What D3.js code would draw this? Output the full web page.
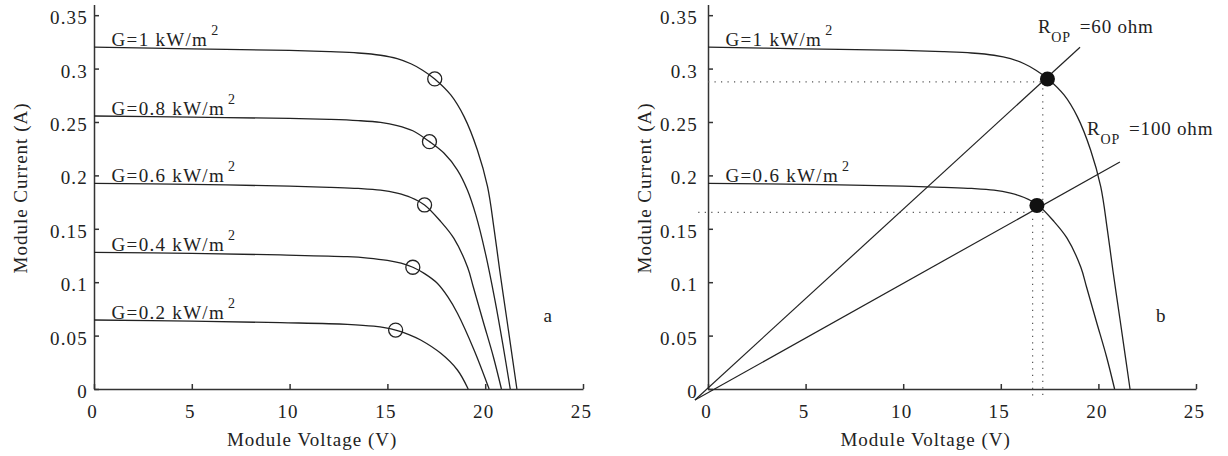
<!DOCTYPE html>
<html><head><meta charset="utf-8">
<script src="https://cdn.jsdelivr.net/npm/d3@7"></script>
<style>
body{margin:0;background:#fff}
text{font-family:"Liberation Serif","Times New Roman",serif;fill:#222}
</style>
</head><body>
<svg id="c" width="1228" height="456"></svg>
<script>
// ---- data ----
const xTicks = [0, 5, 10, 15, 20, 25];
const yTicks = [0, 0.05, 0.1, 0.15, 0.2, 0.25, 0.3, 0.35];
const yTickLabels = ["0", "0.05", "0.1", "0.15", "0.2", "0.25", "0.3", "0.35"];
const xTitle = "Module Voltage (V)";
const yTitle = "Module Current (A)";

const curveG10 = [[0,0.320],[5,0.3185],[10,0.317],[12.1,0.3158],[13.5,0.3146],[14.65,0.3125],[15.5,0.3093],[16.2,0.3045],[16.8,0.2985],[17.42,0.2903],[18.24,0.2753],[18.92,0.255],[19.6,0.2238],[20.12,0.1894],[20.46,0.149],[20.75,0.110],[21.1,0.066],[21.4,0.028],[21.62,0]];
const curveG08 = [[0,0.2556],[5,0.2545],[10,0.2533],[12.1,0.2524],[13.5,0.2513],[14.65,0.2496],[15.5,0.2467],[16.3,0.2418],[17.15,0.2316],[17.9,0.2207],[18.58,0.205],[19.09,0.1863],[19.52,0.163],[20.0,0.128],[20.5,0.083],[20.9,0.042],[21.28,0]];
const curveG06 = [[0,0.1926],[5,0.1915],[10,0.19],[12.1,0.1888],[13.5,0.1878],[14.65,0.1862],[15.5,0.1833],[16.2,0.1793],[16.9,0.1723],[17.73,0.1567],[18.4,0.141],[19.1,0.114],[19.4,0.095],[19.9,0.063],[20.42,0.030],[20.83,0]];
const curveG04 = [[0,0.128],[5,0.127],[9.53,0.1255],[12.95,0.1239],[14.0,0.1226],[15.0,0.1204],[15.7,0.1178],[16.3,0.114],[16.9,0.108],[17.55,0.099],[18.1,0.086],[18.58,0.0709],[19.43,0.0365],[20.2,0]];
const curveG02 = [[0,0.0646],[5,0.0635],[9.53,0.0621],[12.95,0.0606],[14.3,0.0588],[15.42,0.0552],[16.1,0.051],[16.7,0.0459],[17.73,0.0334],[18.58,0.0178],[19.13,0]];

const leftCurves = [curveG10, curveG08, curveG06, curveG04, curveG02];
const leftLabels = ["G=1 kW/m", "G=0.8 kW/m", "G=0.6 kW/m", "G=0.4 kW/m", "G=0.2 kW/m"];
const mppV = [17.42, 17.15, 16.9, 16.3, 15.42];
const mppI = [0.2903, 0.2316, 0.1723, 0.114, 0.0552];

const rightCurves = [curveG10, curveG06];
const rightLabels = ["G=1 kW/m", "G=0.6 kW/m"];
const opV = [17.39, 16.85];
const opI = [0.2903, 0.1719];
const guideV = [17.15, 16.63];
const guideI = [0.2875, 0.1653];
const guideStartV = [0, -0.5];
const guideBottomI = -0.0103;
const load60 = [[-0.67, -0.0103], [19.06, 0.320]];
const load100 = [[-0.67, -0.0103], [21.1, 0.2125]];
const loadLabels = ["=60 ohm", "=100 ohm"];
const loadLabelPos = [[16.9, 0.3333], [19.42, 0.2378]];
const panelLetters = ["a", "b"];
const letterPos = [23.19, 0.0627];
const labelV = 0.9;

// ---- drawing ----
const svg = d3.select("#c");
const ink = "#222";

function panel(x0, x1, yLabelPad, yTitleX) {
  const x = d3.scaleLinear().domain([0, 25]).range([x0, x1]);
  const y = d3.scaleLinear().domain([0, 0.36]).range([389, 4.5]);
  const g = svg.append("g");

  const ax = g.append("g").attr("transform", `translate(0,${y(0)})`)
    .call(d3.axisBottom(x).tickValues(xTicks).tickSize(-5).tickSizeOuter(0).tickFormat(d3.format("d")));
  ax.selectAll("text").attr("y", 29).attr("dy", 0).attr("dx", -2)
    .style("font-size", "19px").style("letter-spacing", "1.2px").attr("font-family", null);
  const ay = g.append("g").attr("transform", `translate(${x(0)},0)`)
    .call(d3.axisLeft(y).tickValues(yTicks).tickSize(-5).tickSizeOuter(0).tickFormat((d, i) => yTickLabels[i]));
  ay.selectAll("text").attr("x", -yLabelPad).attr("dy", "0.45em")
    .style("font-size", "19px").style("letter-spacing", "1.2px").attr("font-family", null);
  g.selectAll(".domain, .tick line").attr("stroke", "#333").attr("stroke-width", 1.5);

  g.append("text").attr("x", x(11.15)).attr("y", 446).attr("text-anchor", "middle")
    .style("font-size", "19px").style("letter-spacing", "1px").text(xTitle);
  g.append("text").attr("transform", `translate(${yTitleX},188) rotate(-90)`).attr("text-anchor", "middle")
    .style("font-size", "19px").style("letter-spacing", "1px").text(yTitle);
  return {g, x, y};
}

const line = (x, y) => d3.line().x(d => x(d[0])).y(d => y(d[1])).curve(d3.curveCatmullRom.alpha(0.5));

function gLabel(g, x, y, curve, txt) {
  const t = g.append("text").attr("x", x(labelV)).attr("y", y(curve[0][1]) - 1.5)
    .style("font-size", "19px").style("letter-spacing", "1.3px");
  t.append("tspan").text(txt);
  t.append("tspan").attr("dx", 3).attr("dy", -11).style("font-size", "14px").text("2");
}

// Left panel
{
  const {g, x, y} = panel(94, 583, 6, 27);
  leftCurves.forEach((c, i) => {
    g.append("path").attr("d", line(x, y)(c)).attr("fill", "none").attr("stroke", ink).attr("stroke-width", 1.3);
    gLabel(g, x, y, c, leftLabels[i]);
  });
  g.selectAll("circle.mpp").data(mppV).join("circle").attr("class", "mpp")
    .attr("cx", d => x(d)).attr("cy", (d, i) => y(mppI[i])).attr("r", 7)
    .attr("fill", "none").attr("stroke", ink).attr("stroke-width", 1.3);
  g.append("text").attr("x", x(letterPos[0])).attr("y", y(letterPos[1])).attr("text-anchor", "middle")
    .style("font-size", "19px").text(panelLetters[0]);
}

// Right panel
{
  const {g, x, y} = panel(708, 1196, 10, 651);
  rightCurves.forEach((c, i) => {
    g.append("path").attr("d", line(x, y)(c)).attr("fill", "none").attr("stroke", ink).attr("stroke-width", 1.3);
    gLabel(g, x, y, c, rightLabels[i]);
  });
  const lin = d3.line().x(d => x(d[0])).y(d => y(d[1]));
  [load60, load100].forEach(l => g.append("path").attr("d", lin(l)).attr("fill", "none").attr("stroke", ink).attr("stroke-width", 1.2));
  guideV.forEach((v, i) => {
    g.append("path").attr("d", lin([[guideStartV[i], guideI[i]], [v, guideI[i]]]))
      .attr("stroke", "#555").attr("stroke-width", 1.2).attr("stroke-dasharray", "1.2,5.3").attr("fill", "none");
    g.append("path").attr("d", lin([[v, guideI[i] - 0.006], [v, guideBottomI]]))
      .attr("stroke", "#555").attr("stroke-width", 1.2).attr("stroke-dasharray", "1.2,5.3").attr("fill", "none");
  });
  g.selectAll("circle.op").data(opV).join("circle").attr("class", "op")
    .attr("cx", d => x(d)).attr("cy", (d, i) => y(opI[i])).attr("r", 7.5).attr("fill", "#111");
  loadLabels.forEach((txt, i) => {
    const t = g.append("text").attr("x", x(loadLabelPos[i][0])).attr("y", y(loadLabelPos[i][1]))
      .style("font-size", "19px").style("letter-spacing", "0.8px");
    t.append("tspan").text("R");
    t.append("tspan").attr("dy", 9).style("font-size", "14px").text("OP");
    t.append("tspan").attr("dx", 9).attr("dy", -9).text(txt);
  });
  g.append("text").attr("x", x(letterPos[0])).attr("y", y(letterPos[1])).attr("text-anchor", "middle")
    .style("font-size", "19px").text(panelLetters[1]);
}
</script>
</body></html>
